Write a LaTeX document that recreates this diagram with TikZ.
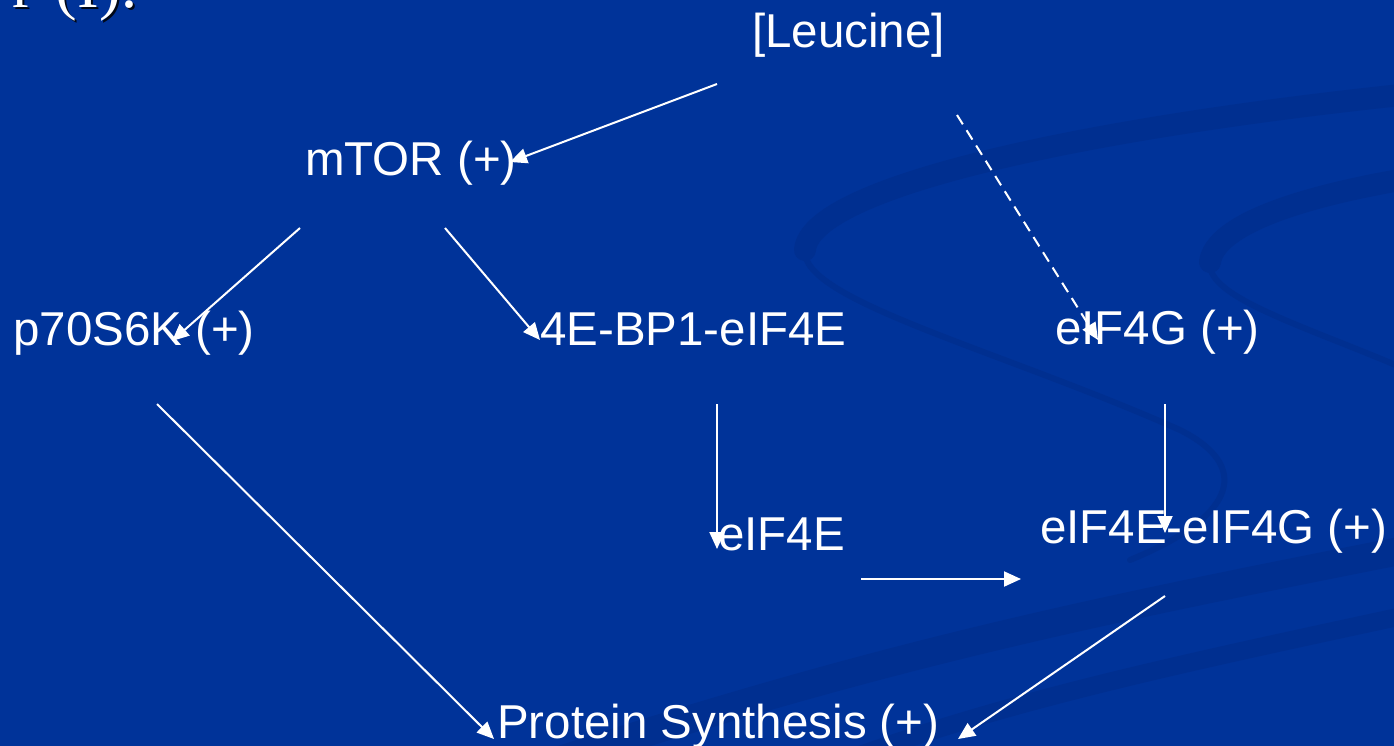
\documentclass[tikz,border=0pt]{standalone}
\usepackage{fontspec}
\setmainfont{Liberation Sans}
\newfontfamily\titlefont{Liberation Serif}
\usetikzlibrary{arrows.meta}
\definecolor{bgblue}{RGB}{0,51,153}
\definecolor{swoosh}{RGB}{0,47,144}
\begin{document}
\begin{tikzpicture}[x=1pt,y=-1pt,
  lbl/.style={text=white, inner sep=0pt, anchor=base west, font=\fontsize{47.5}{57}\selectfont},
  conn/.style={draw=white, line width=2pt, -{Triangle[length=17pt,width=15pt]}},
  dashconn/.style={conn, dash pattern=on 11pt off 7pt},
  band/.style={draw=swoosh, line cap=round},
  ttl/.style={inner sep=0pt, anchor=base east, font=\titlefont\fontsize{65}{78}\selectfont}]
\fill[bgblue] (0,0) rectangle (1394,746);
\useasboundingbox (0,0) rectangle (1394,746);
% background swooshes
\draw[band, line width=22pt] (1430,92) .. controls (1100,125) and (810,185) .. (805,250);
\draw[band, line width=6pt] (805,250) .. controls (800,300) and (1000,350) .. (1180,430) .. controls (1250,465) and (1240,515) .. (1130,560);
\draw[band, line width=22pt] (1430,175) .. controls (1300,195) and (1215,225) .. (1210,262);
\draw[band, line width=6pt] (1210,262) .. controls (1205,300) and (1320,330) .. (1430,380);
\draw[band, line width=28pt] (1430,545) .. controls (1100,610) and (900,650) .. (560,760);
\draw[band, line width=18pt] (1430,610) .. controls (1200,660) and (1000,700) .. (820,770);
% title fragment
\node[ttl, text=black!85!bgblue] (titleshadow) at (141,10) {r\hspace{22pt}(I):};
\node[ttl, text=white] (title) at (139,8) {r\hspace{22pt}(I):};
% nodes
\node[lbl] (leucine) at (752,48) {[Leucine]};
\node[lbl] (mtor) at (305,176) {mTOR (+)};
\node[lbl] (p70) at (13,345) {p70S6K (+)};
\node[lbl] (bp1) at (540,345) {4E-BP1-eIF4E};
\node[lbl] (eif4g) at (1055,344) {eIF4G (+)};
\node[lbl] (eif4e) at (718,550) {eIF4E};
\node[lbl] (complex) at (1040,543) {eIF4E-eIF4G (+)};
\node[lbl] (ps) at (497,738) {Protein Synthesis (+)};
% connector end points
\coordinate (leuA) at (717,84);
\coordinate (mtorIn) at (510,162);
\coordinate (leuB) at (957,115);
\coordinate (eif4gIn) at (1098,340);
\coordinate (mtorA) at (300,228);
\coordinate (p70In) at (172,341);
\coordinate (mtorB) at (445,228);
\coordinate (bp1In) at (540,340);
\coordinate (bp1Out) at (717,404);
\coordinate (eif4eIn) at (717,549);
\coordinate (eif4gOut) at (1165,404);
\coordinate (complexInA) at (1165,533);
\coordinate (eif4eOut) at (861,579);
\coordinate (complexInB) at (1021,579);
\coordinate (p70Out) at (157,404);
\coordinate (psInA) at (494,739);
\coordinate (complexOut) at (1165,596);
\coordinate (psInB) at (958,739);
% connectors
\draw[conn] (leuA) -- (mtorIn);
\draw[dashconn] (leuB) -- (eif4gIn);
\draw[conn] (mtorA) -- (p70In);
\draw[conn] (mtorB) -- (bp1In);
\draw[conn] (bp1Out) -- (eif4eIn);
\draw[conn] (eif4gOut) -- (complexInA);
\draw[conn] (eif4eOut) -- (complexInB);
\draw[conn] (p70Out) -- (psInA);
\draw[conn] (complexOut) -- (psInB);
\end{tikzpicture}
\end{document}
